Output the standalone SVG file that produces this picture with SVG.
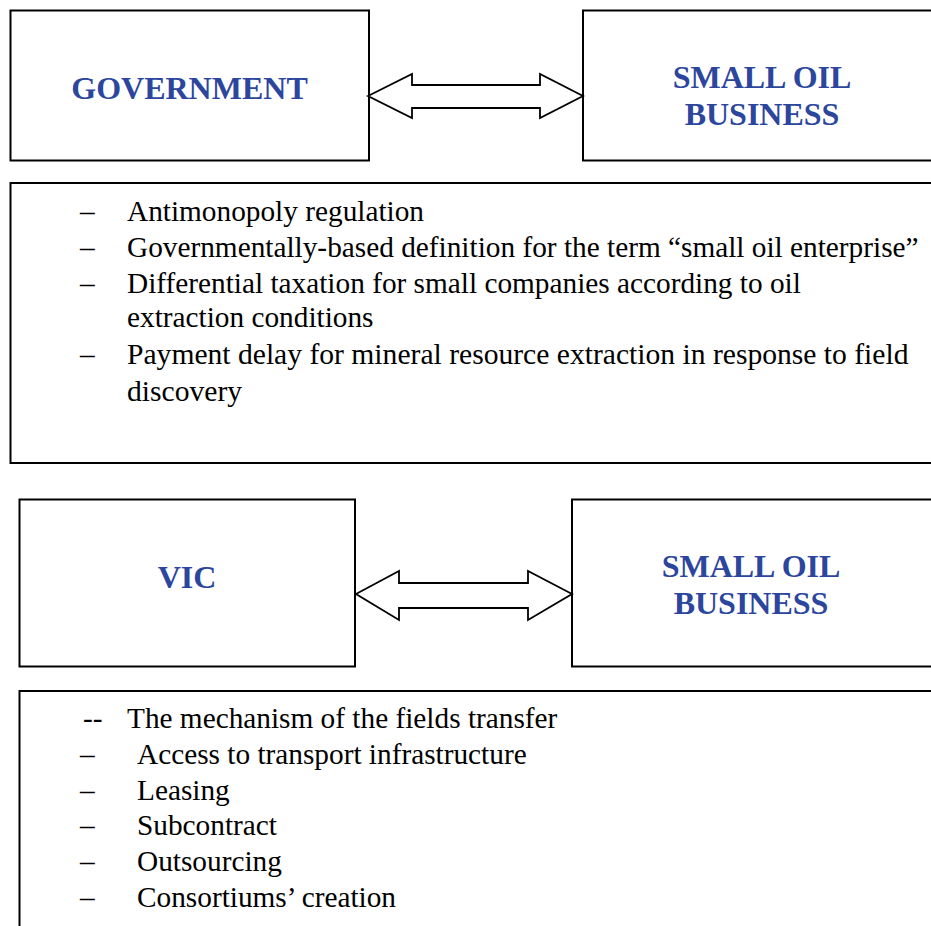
<svg xmlns="http://www.w3.org/2000/svg" width="931" height="926" viewBox="0 0 931 926">
<style>
.box{fill:#fff;stroke:#000;stroke-width:2}
.arr{fill:#fff;stroke:#000;stroke-width:1.8;stroke-linejoin:miter}
.hd{font-family:"Liberation Serif","Times New Roman",serif;font-weight:bold;font-size:32px;fill:#2C469E;text-anchor:middle}
.tx{font-family:"Liberation Serif","Times New Roman",serif;font-size:29.3px;fill:#000}
</style>
<rect width="931" height="926" fill="#fff"/>
<g id="government">
<rect class="box" x="10.5" y="10.5" width="358.5" height="150"/>
<text class="hd" x="189.5" y="99">GOVERNMENT</text>
</g>
<g id="small-oil-business-1">
<rect class="box" x="583" y="10.5" width="360" height="150"/>
<text class="hd" x="762" y="88">SMALL OIL</text>
<text class="hd" x="762" y="125">BUSINESS</text>
</g>
<g id="gov-measures">
<rect class="box" x="10.5" y="183" width="940" height="280"/>
<g class="tx">
<text x="80" y="221">–</text><text x="127" y="221">Antimonopoly regulation</text>
<text x="80" y="257">–</text><text x="127" y="257">Governmentally-based definition for the term “small oil enterprise”</text>
<text x="80" y="293">–</text><text x="127" y="293">Differential taxation for small companies according to oil</text>
<text x="127" y="327">extraction conditions</text>
<text x="80" y="364">–</text><text x="127" y="364" style="font-size:29.6px">Payment delay for mineral resource extraction in response to field</text>
<text x="127" y="401" style="font-size:29.6px">discovery</text>
</g>
</g>
<g id="vic">
<rect class="box" x="19.5" y="499.5" width="335.5" height="167"/>
<text class="hd" x="187" y="588">VIC</text>
</g>
<g id="small-oil-business-2">
<rect class="box" x="572" y="499.5" width="370" height="167"/>
<text class="hd" x="751" y="577">SMALL OIL</text>
<text class="hd" x="751" y="614">BUSINESS</text>
</g>
<g id="vic-measures">
<rect class="box" x="19.5" y="691" width="930" height="260"/>
<g class="tx">
<text x="83" y="728">--</text><text x="127" y="728">The mechanism of the fields transfer</text>
<text x="80" y="764">–</text><text x="137" y="764">Access to transport infrastructure</text>
<text x="80" y="800">–</text><text x="137" y="800">Leasing</text>
<text x="80" y="835">–</text><text x="137" y="835">Subcontract</text>
<text x="80" y="871">–</text><text x="137" y="871">Outsourcing</text>
<text x="80" y="907">–</text><text x="137" y="907">Consortiums’ creation</text>
</g>
</g>
<g id="connectors">
<polygon class="arr" points="368,96 412,74 412,85 540,85 540,74 583,96 540,118 540,108 412,108 412,118"/>
<polygon class="arr" points="356,594 399,571 399,583 528,583 528,571 572,594 528,620 528,608 399,608 399,620"/>
</g>
</svg>
